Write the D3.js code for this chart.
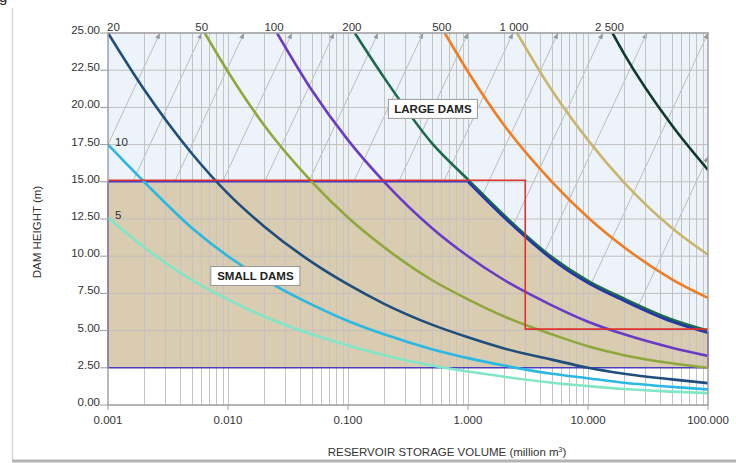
<!DOCTYPE html>
<html>
<head>
<meta charset="utf-8">
<script src="https://cdn.jsdelivr.net/npm/d3@7"></script>
<style>
  body { margin: 0; background: #fff; }
  svg { display: block; font-family: "Liberation Sans", Arial, sans-serif; }
</style>
</head>
<body>
<svg id="chart" width="736" height="463"></svg>
<script>
// storage volume grid (million m3) and dam heights (m)
var volumes = [0.001, 0.002, 0.005, 0.01, 0.02, 0.05, 0.1, 0.2, 0.5, 1, 2, 5, 10, 20, 50, 100];
var h5    = [12.6, 10.6, 8.4, 7.1, 5.95, 4.75, 4.0, 3.35, 2.65, 2.25, 1.9, 1.5, 1.27, 1.07, 0.9, 0.8];
var h10   = [17.5, 15.0, 11.9, 10.0, 8.45, 6.75, 5.65, 4.75, 3.75, 3.15, 2.65, 2.1, 1.8, 1.5, 1.22, 1.05];
var h20   = [25.0, 21.2, 16.9, 14.2, 12.0, 9.6, 8.1, 6.8, 5.4, 4.55, 3.8, 3.05, 2.5, 2.1, 1.72, 1.47];
var h50   = [null, null, null, 22.4, 18.8, 15.0, 12.6, 10.6, 8.4, 7.1, 5.95, 4.75, 3.95, 3.35, 2.8, 2.5];
var h100  = [null, null, null, null, null, 21.15, 17.8, 15.0, 11.9, 10.0, 8.4, 6.7, 5.6, 4.75, 3.85, 3.3];
var h200  = [null, null, null, null, null, null, null, 22.0, 17.6, 15.15, 12.75, 9.95, 8.35, 7.15, 5.75, 5.0];
var h500  = [null, null, null, null, null, null, null, null, null, 22.4, 18.8, 15.0, 12.6, 10.6, 8.45, 7.2];
var h1000 = [null, null, null, null, null, null, null, null, null, null, null, 21.15, 17.8, 14.95, 11.9, 10.1];
var h2500 = [null, null, null, null, null, null, null, null, null, null, null, null, null, 23.6, 18.8, 15.8];

var ratings = [5, 10, 20, 50, 100, 200, 500, 1000, 2500];
var ratingHeights = [h5, h10, h20, h50, h100, h200, h500, h1000, h2500];
// volume where a curve leaves the top of the chart (H = 25)
var topVolumes = [null, null, null, 0.0064, 0.0256, 0.114, 0.64, 2.56, 16];
var colors = ["#80e6c8", "#2bb8e2", "#1f4e7d", "#8fa83d", "#6a3bc6", "#1b6a49", "#f27c22", "#c9b66c", "#0e3a2c"];

// small dams limit
var boundaryV = [1, 2, 3, 5, 10, 20, 50, 100];
var boundaryH = [15, 12.6, 11.3, 9.8, 8.2, 7.0, 5.6, 4.85];
var redV = [0.001, 3, 3, 100];
var redH = [15, 15, 5, 5];

// grey guide lines: end points of the arrows
var arrowV = [0.00271, 0.00607, 0.0136, 0.0341, 0.0764, 0.178, 0.422, 1.0, 2.37, 5.62, 13.3, 30.9, 100, 100];
var arrowH = [25, 25, 25, 25, 25, 25, 25, 25, 25, 25, 25, 25, 25, 16.7];
var arrowRise = 17.3; // m per decade

var xTicks = [0.001, 0.01, 0.1, 1, 10, 100];
var yTicks = [0, 2.5, 5, 7.5, 10, 12.5, 15, 17.5, 20, 22.5, 25];

var svg = d3.select("#chart");
var mLeft = 108, mRight = 708, mTop = 33, mBottom = 405;

var x = d3.scaleLog().domain([0.001, 100]).range([mLeft, mRight]);
var y = d3.scaleLinear().domain([0, 25]).range([mBottom, mTop]);

var fmtX = d3.format(".3f");
var fmtY = d3.format(".2f");
var fmtR = d3.formatLocale({decimal: ".", thousands: " ", grouping: [3], currency: ["", ""]}).format(",d");

// card edges
svg.append("line").attr("x1", 12.5).attr("x2", 12.5).attr("y1", 8).attr("y2", 460)
    .attr("stroke", "#d8d8d8").attr("stroke-width", 1.5);
svg.append("line").attr("x1", 12).attr("x2", 736).attr("y1", 461).attr("y2", 461)
    .attr("stroke", "#b4b4b4").attr("stroke-width", 3);
svg.append("text").attr("x", -1).attr("y", 2).attr("font-size", 15).attr("fill", "#222").text("g");

var defs = svg.append("defs");
defs.append("clipPath").attr("id", "plot")
    .append("rect").attr("x", mLeft).attr("y", mTop).attr("width", mRight - mLeft).attr("height", mBottom - mTop);
defs.append("marker").attr("id", "arrow")
    .attr("markerUnits", "userSpaceOnUse")
    .attr("markerWidth", 7).attr("markerHeight", 6)
    .attr("refX", 6).attr("refY", 3).attr("orient", "auto")
    .append("path").attr("d", "M0,0.5L6,3L0,5.5Z").attr("fill", "#9a9a9a");

// large dams background
svg.append("rect")
    .attr("x", mLeft).attr("y", y(25))
    .attr("width", mRight - mLeft).attr("height", y(2.5) - y(25))
    .attr("fill", "#edf3fa");

// grey arrows
var arrows = arrowV.map(function (v, i) { return {v: v, h: arrowH[i]}; });
var guides = svg.append("g").attr("clip-path", "url(#plot)");
guides.selectAll("line")
    .data(arrows)
    .enter().append("line")
    .attr("x1", function (d) { return x(Math.pow(10, Math.log10(d.v) - (d.h - 2.5) / arrowRise)); })
    .attr("y1", y(2.5))
    .attr("x2", function (d) { return x(d.v); })
    .attr("y2", function (d) { return y(d.h); })
    .attr("stroke", "#adadad").attr("stroke-width", 0.8);
svg.selectAll(".arrowhead")
    .data(arrows)
    .enter().append("path")
    .attr("class", "arrowhead")
    .attr("d", function (d) {
        return "M" + x(Math.pow(10, Math.log10(d.v) - 0.3 / arrowRise)) + "," + y(d.h - 0.3) +
            "L" + x(d.v) + "," + y(d.h);
    })
    .attr("fill", "none").attr("stroke", "none")
    .attr("marker-end", "url(#arrow)");

// small dams area
var boundaryPts = boundaryV.map(function (v, i) { return {v: v, h: boundaryH[i]}; });
var curveLine = d3.line()
    .x(function (d) { return x(d.v); })
    .y(function (d) { return y(d.h); })
    .curve(d3.curveMonotoneX);
var boundaryPath = curveLine(boundaryPts);
var smallPath = "M" + x(0.001) + "," + y(2.5) + "L" + x(0.001) + "," + y(15) +
    "L" + boundaryPath.slice(1) + "L" + x(100) + "," + y(2.5) + "Z";
svg.append("path").attr("d", smallPath).attr("fill", "#d9ccb0");

// grid
var grid = svg.append("g");
grid.selectAll(".vg")
    .data(x.ticks().filter(function (v) { return v > 0.0011 && v < 99; }))
    .enter().append("line")
    .attr("class", "vg")
    .attr("x1", function (d) { return Math.round(x(d)) + 0.5; })
    .attr("x2", function (d) { return Math.round(x(d)) + 0.5; })
    .attr("y1", y(0)).attr("y2", y(25))
    .attr("stroke", "#c4c4c4").attr("stroke-width", 1);
grid.selectAll(".hg")
    .data(yTicks.filter(function (h) { return h > 2.5 && h < 25; }))
    .enter().append("line")
    .attr("class", "hg")
    .attr("x1", mLeft).attr("x2", mRight)
    .attr("y1", function (d) { return y(d); })
    .attr("y2", function (d) { return y(d); })
    .attr("stroke", "#c0c0c0").attr("stroke-width", 1);

// outline of small dams area
svg.append("path").attr("d", smallPath)
    .attr("fill", "none").attr("stroke", "#4b3cc2").attr("stroke-width", 1.6);

// rating curves
var series = ratings.map(function (r, i) {
    var pts = [];
    if (topVolumes[i] !== null) pts.push({v: topVolumes[i], h: 25});
    volumes.forEach(function (v, j) {
        if (ratingHeights[i][j] !== null) pts.push({v: v, h: ratingHeights[i][j]});
    });
    return {rating: r, color: colors[i], points: pts};
});
svg.append("g").attr("clip-path", "url(#plot)")
    .selectAll("path")
    .data(series)
    .enter().append("path")
    .attr("d", function (d) { return curveLine(d.points); })
    .attr("fill", "none")
    .attr("stroke", function (d) { return d.color; })
    .attr("stroke-width", 2.6);

svg.append("path").attr("d", boundaryPath)
    .attr("fill", "none").attr("stroke", "#2537a8").attr("stroke-width", 2.4);

// red limit
svg.append("path")
    .attr("d", d3.line()
        .x(function (d) { return x(d); })
        .y(function (d, i) { return y(redH[i]) - 1.5; })(redV))
    .attr("fill", "none").attr("stroke", "#e0322c").attr("stroke-width", 1.6);

// frame and axes
svg.append("path")
    .attr("d", "M" + mLeft + "," + mBottom + "V" + mTop + "H" + mRight + "V" + mBottom + "H" + mLeft)
    .attr("fill", "none").attr("stroke", "#9c9c9c").attr("stroke-width", 1.4);

var yAxis = svg.append("g");
yAxis.selectAll("line").data(yTicks).enter().append("line")
    .attr("x1", mLeft - 8).attr("x2", mLeft)
    .attr("y1", function (d) { return y(d); })
    .attr("y2", function (d) { return y(d); })
    .attr("stroke", "#9c9c9c");
yAxis.selectAll("text").data(yTicks).enter().append("text")
    .attr("x", mLeft - 8)
    .attr("y", function (d) { return y(d) + 1; })
    .attr("text-anchor", "end")
    .attr("font-size", 11.5).attr("fill", "#333")
    .text(function (d) { return fmtY(d); });

var xAxis = svg.append("g");
xAxis.selectAll("line").data(xTicks).enter().append("line")
    .attr("x1", function (d) { return x(d); })
    .attr("x2", function (d) { return x(d); })
    .attr("y1", mBottom).attr("y2", mBottom + 5)
    .attr("stroke", "#9c9c9c");
xAxis.selectAll("text").data(xTicks).enter().append("text")
    .attr("x", function (d) { return x(d); })
    .attr("y", mBottom + 19)
    .attr("text-anchor", "middle")
    .attr("font-size", 11.5).attr("fill", "#333")
    .text(function (d) { return fmtX(d); });

svg.append("text")
    .attr("transform", "translate(41,232) rotate(-90)")
    .attr("text-anchor", "middle")
    .attr("font-size", 11.5).attr("fill", "#333")
    .text("DAM HEIGHT (m)");
var xt = svg.append("text")
    .attr("x", 447).attr("y", 456)
    .attr("text-anchor", "middle")
    .attr("font-size", 11.5).attr("fill", "#333");
xt.append("tspan").text("RESERVOIR STORAGE VOLUME (million m");
xt.append("tspan").attr("font-size", 7).attr("dy", -4).text("3");
xt.append("tspan").attr("dy", 4).text(")");

// curve labels
svg.selectAll(".rlabel")
    .data(series)
    .enter().append("text")
    .attr("class", "rlabel")
    .attr("x", function (d) {
        var p = d.points[0];
        return p.h < 25 ? x(p.v) + 7 : (p.v <= 0.001 ? x(p.v) - 1 : x(p.v) - 3);
    })
    .attr("y", function (d) { var p = d.points[0]; return p.h < 25 ? y(p.h) + 1 : y(25) - 2; })
    .attr("text-anchor", function (d) { var p = d.points[0]; return (p.h < 25 || p.v <= 0.001) ? "start" : "middle"; })
    .attr("font-size", 11.5).attr("fill", "#333")
    .text(function (d) { return fmtR(d.rating); });

// region labels
var regionNames = ["LARGE DAMS", "SMALL DAMS"];
var regionV = [0.51, 0.0169];
var regionH = [19.9, 8.67];
regionNames.forEach(function (name, i) {
    var g = svg.append("g").attr("transform", "translate(" + x(regionV[i]) + "," + y(regionH[i]) + ")");
    g.append("rect").attr("x", -44.5).attr("y", -9.5).attr("width", 89).attr("height", 19)
        .attr("fill", "#fff").attr("stroke", "#9a9a9a").attr("stroke-width", 1);
    g.append("text").attr("y", 4).attr("text-anchor", "middle")
        .attr("font-size", 11.5).attr("font-weight", "bold").attr("fill", "#222")
        .text(name);
});
</script>
</body>
</html>
